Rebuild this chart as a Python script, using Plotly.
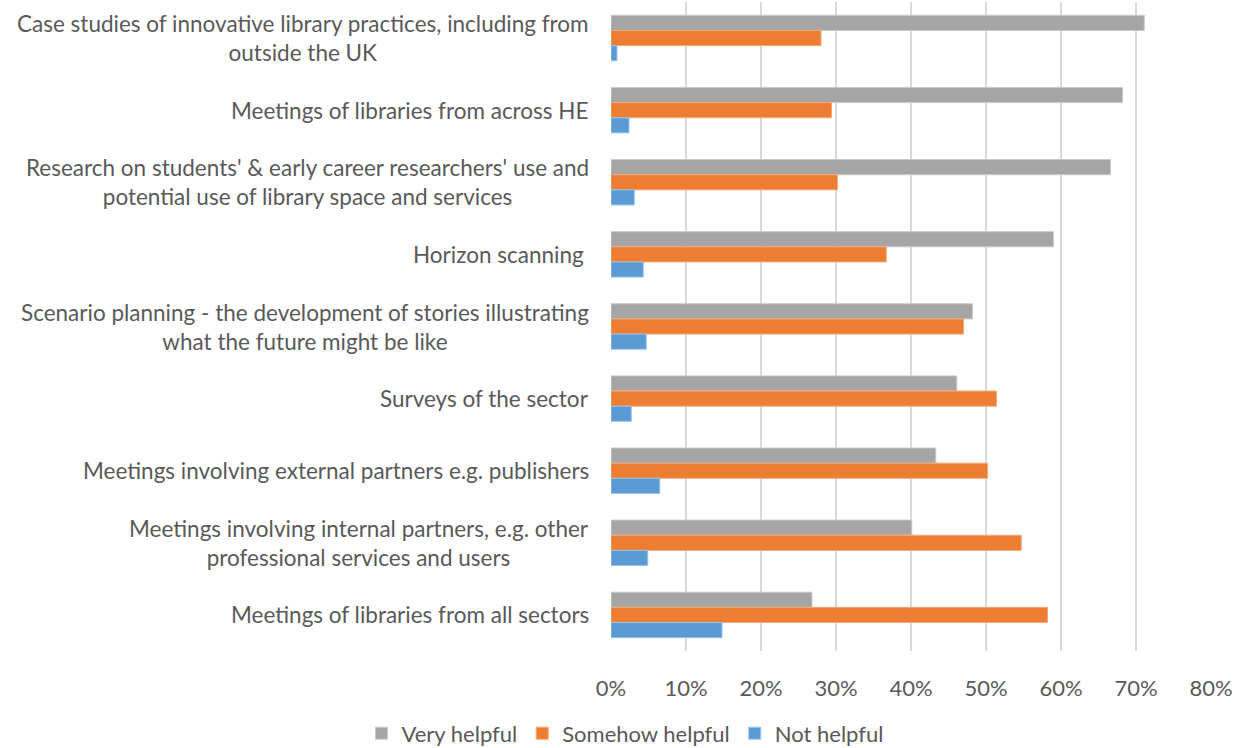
import plotly.graph_objects as go

# Categories, top to bottom as shown
categories = [
    "Case studies of innovative library practices, including from<br>outside the UK",
    "Meetings of libraries from across HE",
    "Research on students' & early career researchers' use and<br>potential use of library space and services",
    "Horizon scanning ",
    "Scenario planning - the development of stories illustrating<br>what the future might be like",
    "Surveys of the sector",
    "Meetings involving external partners e.g. publishers",
    "Meetings involving internal partners, e.g. other<br>professional services and users",
    "Meetings of libraries from all sectors",
]

very_helpful = [0.711, 0.682, 0.666, 0.590, 0.482, 0.461, 0.433, 0.401, 0.268]
somehow_helpful = [0.280, 0.294, 0.302, 0.367, 0.470, 0.514, 0.502, 0.547, 0.582]
not_helpful = [0.008, 0.024, 0.031, 0.043, 0.047, 0.027, 0.065, 0.049, 0.148]

x_ticks = [0, 0.1, 0.2, 0.3, 0.4, 0.5, 0.6, 0.7, 0.8]

font_name = "Lato"
text_grey = "#595959"

fig = go.Figure()

for name, vals, colour, edge in [
    ("Very helpful", very_helpful, "#a5a5a5", "#c9c9c9"),
    ("Somehow helpful", somehow_helpful, "#ed7d31", "#f4a97a"),
    ("Not helpful", not_helpful, "#5b9bd5", "#9cc3e6"),
]:
    fig.add_trace(go.Bar(
        y=categories,
        x=vals,
        name=name,
        orientation="h",
        marker=dict(color=colour, line=dict(color=edge, width=1)),
    ))

# Category labels as centred multi-line annotations
for cat in categories:
    fig.add_annotation(
        x=0, xref="x", y=cat, yref="y",
        text=cat, showarrow=False,
        xanchor="right", xshift=-20, align="center",
        font=dict(family=font_name, size=22.5, color=text_grey),
    )

fig.update_layout(
    width=1250,
    height=748,
    barmode="group",
    bargap=0.37,
    bargroupgap=0,
    plot_bgcolor="white",
    paper_bgcolor="white",
    margin=dict(l=611, r=39, t=2, b=97, autoexpand=False),
    font=dict(family=font_name, size=22, color=text_grey),
    legend=dict(
        orientation="h",
        x=0.5, xref="container", xanchor="center",
        y=-0.127, yref="paper", yanchor="middle",
        font=dict(family=font_name, size=22, color=text_grey),
        itemwidth=30,
    ),
    xaxis=dict(
        range=[0, 0.8],
        tickvals=x_ticks,
        tickformat=".0%",
        showgrid=True,
        gridcolor="#d9d9d9",
        gridwidth=2,
        zeroline=False,
        showline=False,
        ticklabelstandoff=22,
    ),
    yaxis=dict(
        autorange="reversed",
        showticklabels=False,
        showgrid=False,
        zeroline=False,
        showline=False,
    ),
)

fig.write_html(
    "out.html",
    config={"displayModeBar": False},
    post_script="document.body.style.margin='0';",
)
